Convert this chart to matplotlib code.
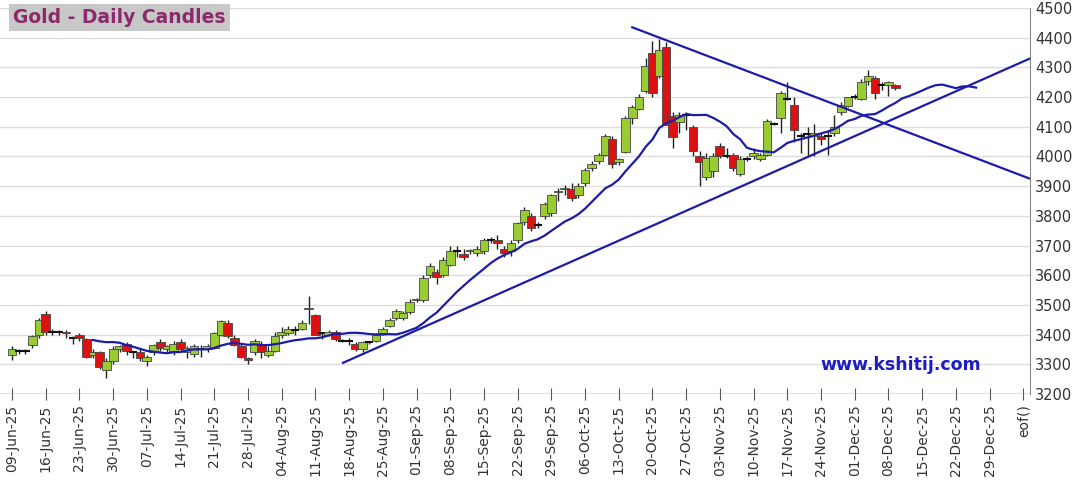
import matplotlib
matplotlib.use("Agg")
import matplotlib.pyplot as plt
import pandas as pd
import numpy as np

ohlc = [
(3330,3360,3315,3350),(3345,3350,3335,3345),(3345,3350,3335,3345),(3365,3400,3355,3395),(3400,3455,3390,3450),
(3470,3480,3400,3410),(3410,3420,3400,3410),(3410,3415,3400,3410),(3410,3415,3390,3405),(3390,3395,3370,3390),
(3400,3405,3380,3390),(3385,3390,3320,3325),(3330,3350,3320,3340),(3340,3345,3285,3290),(3280,3320,3255,3310),
(3310,3360,3300,3350),(3350,3365,3340,3360),(3370,3375,3330,3345),(3340,3345,3320,3340),(3340,3350,3310,3320),
(3310,3330,3295,3325),(3340,3370,3330,3365),(3375,3385,3345,3355),(3350,3365,3340,3360),(3345,3380,3330,3370),
(3375,3385,3345,3350),(3340,3360,3320,3355),(3335,3370,3325,3360),(3355,3365,3325,3350),(3350,3370,3340,3360),
(3355,3410,3350,3405),(3400,3450,3395,3445),(3440,3450,3390,3395),(3390,3400,3360,3365),(3360,3370,3320,3325),
(3320,3325,3300,3315),(3340,3385,3330,3380),(3370,3380,3320,3340),(3330,3360,3325,3345),(3345,3410,3340,3395),
(3400,3425,3390,3410),(3405,3430,3400,3420),(3415,3430,3400,3415),(3420,3450,3415,3440),(3485,3530,3435,3490),
(3465,3470,3400,3400),(3405,3410,3385,3405),(3400,3415,3395,3410),(3410,3415,3380,3385),(3380,3385,3375,3380),
(3380,3390,3365,3380),(3370,3375,3345,3350),(3350,3380,3340,3375),(3375,3380,3370,3375),(3380,3405,3375,3400),
(3405,3425,3400,3420),(3430,3455,3425,3450),(3455,3485,3450,3480),(3456,3480,3450,3473),(3476,3520,3470,3510),
(3515,3525,3510,3520),(3515,3600,3510,3590),(3600,3640,3590,3630),(3610,3620,3570,3595),(3600,3660,3595,3650),
(3635,3700,3630,3680),(3680,3700,3660,3680),(3670,3690,3650,3660),(3680,3690,3670,3685),(3675,3700,3665,3690),
(3680,3725,3670,3720),(3720,3730,3710,3720),(3720,3735,3690,3710),(3690,3700,3660,3675),(3680,3720,3665,3710),
(3720,3780,3710,3775),(3780,3830,3770,3820),(3800,3810,3750,3760),(3770,3780,3760,3770),(3800,3845,3790,3840),
(3810,3875,3800,3870),(3880,3895,3850,3885),(3890,3905,3870,3895),(3890,3910,3850,3860),(3870,3910,3860,3900),
(3910,3960,3900,3955),(3960,3985,3950,3975),(3985,4010,3975,4005),(4005,4075,4000,4070),(4060,4070,3960,3975),
(3980,3995,3970,3990),(4015,4135,4010,4130),(4130,4175,4110,4165),(4160,4210,4155,4200),(4220,4330,4215,4305),
(4350,4390,4200,4215),(4270,4395,4265,4360),(4370,4385,4105,4105),(4135,4150,4030,4065),(4115,4150,4080,4140),
(4140,4150,4090,4140),(4100,4105,4000,4020),(4000,4020,3900,3980),(3930,4010,3920,3995),(3950,4010,3930,4000),
(4035,4045,3995,4000),(4000,4030,3995,4000),(4005,4010,3950,3960),(3940,4000,3935,3990),(3990,4000,3985,3990),
(4000,4030,3990,4010),(3990,4010,3985,4005),(4005,4125,4000,4120),(4110,4115,4105,4110),(4130,4220,4080,4215),
(4195,4250,4190,4195),(4175,4200,4050,4090),(4070,4080,4010,4070),(4075,4100,4000,4075),(4070,4110,4000,4080),
(4070,4080,4040,4060),(4070,4090,4005,4070),(4080,4140,4070,4100),(4150,4185,4140,4175),(4170,4200,4165,4200),
(4200,4210,4195,4200),(4195,4260,4190,4250),(4255,4290,4240,4270),(4265,4270,4195,4215),(4240,4250,4225,4240),
(4240,4255,4205,4250),(4240,4245,4225,4230),
]
opens = [r[0] for r in ohlc]
highs = [r[1] for r in ohlc]
lows = [r[2] for r in ohlc]
closes = [r[3] for r in ohlc]

tick_labels = ["09-Jun-25","16-Jun-25","23-Jun-25","30-Jun-25","07-Jul-25","14-Jul-25","21-Jul-25","28-Jul-25",
"04-Aug-25","11-Aug-25","18-Aug-25","25-Aug-25","01-Sep-25","08-Sep-25","15-Sep-25","22-Sep-25","29-Sep-25",
"06-Oct-25","13-Oct-25","20-Oct-25","27-Oct-25","03-Nov-25","10-Nov-25","17-Nov-25","24-Nov-25","01-Dec-25",
"08-Dec-25","15-Dec-25","22-Dec-25","29-Dec-25","eof()"]
support_line = [(49.1, 3305), (151, 4330)]
resist_line = [(92, 4435), (151, 3925)]
ma_window = 13
ma_extension = [4195, 4203, 4212, 4222, 4232, 4240, 4242, 4236, 4230, 4236, 4236, 4232]

fig = plt.figure(figsize=(10.8, 4.82), dpi=100)
ax = fig.add_axes([0, 1-394/482, 1030/1080, 386/482])
ax.set_xlim(-1.78, 151)
ax.set_ylim(3200, 4500)
ax.yaxis.tick_right()
ax.set_yticks(range(3200, 4501, 100))
ax.tick_params(axis='y', labelsize=10.5, colors='#333333', length=0)
ax.grid(axis='y', color='#dddddd', lw=1)
ax.set_axisbelow(True)
for s in ['top','left','bottom']:
    ax.spines[s].set_visible(False)
ax.spines['right'].set_color('#888888')
ax.axhline(3200, color='#888888', lw=1)

xt = [5*i for i in range(len(tick_labels))]
ax.set_xticks(xt)
ax.set_xticklabels(tick_labels, rotation=90, fontsize=10, color='#333333')
ax.tick_params(axis='x', length=8, color='#555555', direction='inout')

x = np.arange(len(ohlc))
for i in x:
    o, h, l, c = opens[i], highs[i], lows[i], closes[i]
    ax.vlines(i, l, h, color='#222222', lw=1, zorder=2)
    if abs(c - o) < 4:
        ax.hlines(o, i-0.6, i+0.6, color='#111111', lw=1.5, zorder=3)
    else:
        col = '#99cc33' if c > o else '#dd1111'
        ax.bar(i, c-o, bottom=o, width=1.3, color=col, edgecolor='#444444', lw=0.6, zorder=3)

ma = list(pd.Series(closes).rolling(ma_window).mean()) + ma_extension
ax.plot(np.arange(len(ma)), ma, color='#1c1ca8', lw=1.6, zorder=4)
ax.plot([p[0] for p in support_line], [p[1] for p in support_line], color='#1c1ca8', lw=1.6, zorder=4)
ax.plot([p[0] for p in resist_line], [p[1] for p in resist_line], color='#1c1ca8', lw=1.6, zorder=4)

fig.text(0.012, 0.963, "Gold - Daily Candles", fontsize=13.5, fontweight='bold', color='#8b2a6b',
         va='center', ha='left', bbox=dict(facecolor='#c8c8c8', edgecolor='none', pad=3))
fig.text(820/1080, 1-365/482, "www.kshitij.com", fontsize=12.5, fontweight='bold', color='#1c1cc0', va='center')

fig.savefig("out.png", dpi=100)
